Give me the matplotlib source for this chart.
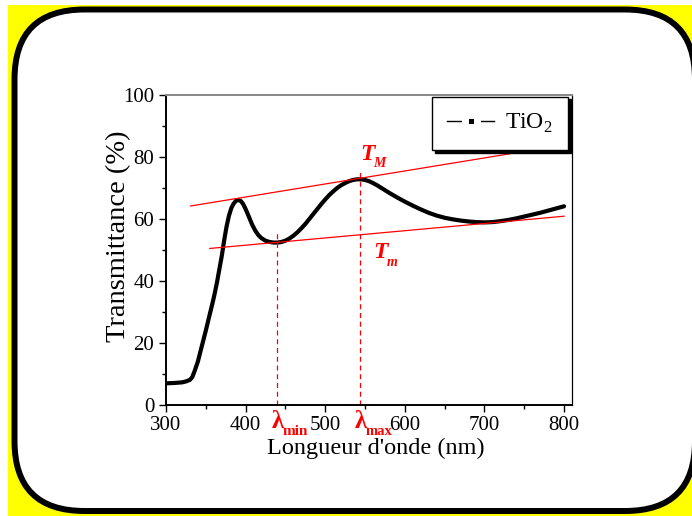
import numpy as np
import matplotlib.pyplot as plt
from matplotlib.patches import FancyBboxPatch, Rectangle
from matplotlib.transforms import IdentityTransform
from matplotlib.ticker import MultipleLocator

plt.rcParams['font.family'] = ['Liberation Serif', 'DejaVu Serif']
plt.rcParams['mathtext.fontset'] = 'custom'
plt.rcParams['mathtext.rm'] = 'Liberation Serif'

# Transmission spectrum of the TiO2 film
wavelength = [300, 310, 320, 325, 330, 333, 336, 340, 345, 350, 355, 359, 361,
              364, 367, 370, 373, 376, 379, 382, 385, 388, 391, 394, 397, 400,
              404, 408, 412, 416, 420, 425, 430, 435, 440, 445, 450, 455, 460,
              465, 470, 475, 480, 485, 490, 495, 500, 505, 510, 515, 520, 525,
              530, 535, 540, 545, 550, 555, 560, 565, 570, 575, 580, 590, 600,
              610, 620, 630, 640, 650, 660, 670, 680, 690, 700, 710, 720, 730,
              740, 750, 760, 770, 780, 790, 800]
transmittance = [7.0, 7.1, 7.3, 7.6, 8.1, 9.0, 11.0, 14.0, 19.0, 24.0, 29.3,
                 33.5, 35.8, 39.5, 43.8, 48.0, 53.0, 57.5, 61.0, 63.5, 65.0,
                 65.9, 66.1, 65.8, 64.8, 63.2, 60.8, 58.3, 56.3, 54.8, 53.8,
                 53.0, 52.6, 52.4, 52.4, 52.6, 53.0, 53.7, 54.6, 55.7, 57.0,
                 58.4, 60.0, 61.6, 63.2, 64.8, 66.3, 67.7, 68.9, 70.0, 70.9,
                 71.6, 72.2, 72.6, 72.8, 72.8, 72.6, 72.2, 71.6, 70.9, 70.1,
                 69.3, 68.5, 67.0, 65.6, 64.3, 63.1, 62.0, 61.1, 60.4, 59.9,
                 59.5, 59.2, 59.0, 58.9, 59.0, 59.3, 59.7, 60.2, 60.8, 61.4,
                 62.0, 62.7, 63.4, 64.1]

# Envelopes T_M and T_m
env_max_x = [331, 750]
env_max_y = [64.2, 81.8]
env_min_x = [355, 800]
env_min_y = [50.5, 60.9]

# lambda_min / lambda_max markers
lam_min, lam_min_top = 439, 56.5
lam_max, lam_max_top = 544, 75.0

fig = plt.figure(figsize=(6.92, 5.16), dpi=100)

# yellow background and rounded white frame (pixel coordinates)
fig.add_artist(Rectangle((8, 0), 700, 511, transform=IdentityTransform(),
                         facecolor='#ffff00', edgecolor='none', zorder=-10))
fig.add_artist(FancyBboxPatch((14.5, 5), 680.5, 501.5,
                              boxstyle='round,pad=0,rounding_size=70',
                              transform=IdentityTransform(),
                              facecolor='white', edgecolor='black',
                              linewidth=4.3, zorder=-9))

ax = fig.add_axes([0.2399, 0.2151, 0.5867, 0.6008])
ax.set_facecolor('none')

ax.plot(wavelength, transmittance, color='black', lw=3.0,
        solid_capstyle='round', solid_joinstyle='round')

ax.plot(env_max_x, env_max_y, color='red', lw=0.9)
ax.plot(env_min_x, env_min_y, color='red', lw=0.9)
ax.plot([lam_min, lam_min], [0, lam_min_top], color='red', lw=0.9, ls=(0, (4, 3)))
ax.plot([lam_max, lam_max], [0, lam_max_top], color='red', lw=0.9, ls=(0, (4, 3)))

red_bold = dict(color='red', fontweight='bold')
ax.text(544, 79, 'T', fontsize=17, fontstyle='italic', **red_bold)
ax.text(560.5, 76.8, 'M', fontsize=10, fontstyle='italic', **red_bold)
ax.text(560, 47.4, 'T', fontsize=17, fontstyle='italic', **red_bold)
ax.text(577, 44.8, 'm', fontsize=10, fontstyle='italic', **red_bold)
ax.text(433, -7.4, 'λ', fontsize=18, **red_bold)
ax.text(447, -9.8, 'min', fontsize=11, **red_bold)
ax.text(537, -7.4, 'λ', fontsize=18, **red_bold)
ax.text(551, -9.8, 'max', fontsize=10.5, **red_bold)

ax.set_xlim(300, 810)
ax.set_ylim(0, 100)
ax.set_xticks([300, 400, 500, 600, 700, 800])
ax.xaxis.set_minor_locator(MultipleLocator(50))
ax.set_yticks([0, 20, 40, 60, 80, 100])
ax.yaxis.set_minor_locator(MultipleLocator(10))
ax.tick_params(which='major', direction='out', length=5, width=1, labelsize=15)
ax.tick_params(which='minor', direction='out', length=3, width=1)
ax.tick_params(axis='x', pad=3)

for side in ['left', 'bottom']:
    ax.spines[side].set_linewidth(1.4)
ax.spines['right'].set_linewidth(0.9)
ax.spines['top'].set_linewidth(1.4)
ax.spines['top'].set_color('#888888')

ax.set_xlabel("Longueur d'onde (nm)", fontsize=17.5)
ax.xaxis.set_label_coords(0.517, -0.105)
ax.set_ylabel('Transmittance (%)', fontsize=20.5)
ax.yaxis.set_label_coords(-0.085, 0.545)

# legend: line with a single square marker, black drop shadow
ax.plot([], [], color='black', lw=1, marker='s', markersize=8,
        markeredgecolor='white', markeredgewidth=5, label=r'TiO$_\mathregular{2}$')
ax.legend(loc='upper right', bbox_to_anchor=(0.99, 0.995), fontsize=17,
          handlelength=2.0, handletextpad=0.45, numpoints=1, fancybox=False,
          framealpha=1, edgecolor='black', borderaxespad=0, borderpad=0.65,
          shadow={'facecolor': 'black', 'edgecolor': 'black', 'alpha': 1})

fig.savefig('out.png', dpi=100)
